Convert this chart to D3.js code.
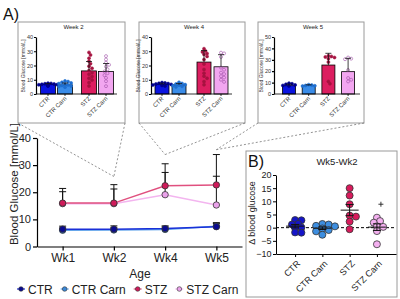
<!DOCTYPE html>
<html>
<head>
<meta charset="utf-8">
<script src="https://cdnjs.cloudflare.com/ajax/libs/d3/7.8.5/d3.min.js"></script>
<style>
body { margin: 0; background: #fff; }
svg { display: block; font-family: Arial, "Liberation Sans", sans-serif; }
</style>
</head>
<body>
<svg width="400" height="299"></svg>
<script>
// ---- data ----
var groups = ["CTR", "CTR Carn", "STZ", "STZ Carn"];
var weeks = ["Wk1", "Wk2", "Wk4", "Wk5"];

// main time course (mean, upper error)
var ctrMean = [6.4, 6.4, 6.6, 7.3];
var ctrErr = [1.1, 1.2, 1.0, 1.5];
var ctrCarnMean = [6.0, 6.1, 6.3, 7.5];
var ctrCarnErr = [0.8, 0.8, 0.9, 1.0];
var stzMean = [16.0, 16.0, 22.4, 22.7];
var stzErr = [5.4, 6.8, 8.1, 11.2];
var stzCarnMean = [15.8, 15.8, 19.1, 15.3];
var stzCarnErr = [4.4, 5.4, 8.2, 10.6];
// where the dashed zoom lines meet (Wk2, Wk4, Wk5)
var zoomWeeks = ["Wk2", "Wk4", "Wk5"];
var zoomLevel = [25.8, 33.9, 35.7];

// insets: bar means, errors, individual animals
var w2Mean = [6.6, 6.4, 16.2, 15.8];
var w2Err = [0.8, 1.3, 6.6, 5.6];
var w2Ctr = [7.6, 7.4, 7.2, 7.0, 6.8, 6.6, 6.5, 6.3, 6.1, 5.8, 5.6];
var w2CtrCarn = [9.2, 8.7, 8.2, 7.8, 7.3, 6.9, 6.4, 6.0, 5.6, 5.2, 4.8];
var w2Stz = [29.2, 27.4, 25.1, 23.0, 21.3, 19.5, 18.0, 16.5, 15.0, 13.8, 12.3, 11.0, 9.8, 8.0, 5.6];
var w2StzCarn = [26.6, 24.2, 22.0, 20.5, 19.2, 17.3, 15.8, 14.6, 13.2, 11.3, 9.0, 5.5];

var w4Mean = [6.7, 6.4, 22.4, 19.1];
var w4Err = [0.9, 1.0, 8.1, 8.5];
var w4Ctr = [8.0, 7.8, 7.5, 7.3, 7.0, 6.7, 6.4, 6.0, 5.6];
var w4CtrCarn = [8.2, 7.4, 7.0, 6.6, 6.2, 5.8, 5.4, 5.0];
var w4Stz = [31.8, 30.2, 29.5, 28.4, 27.8, 26.4, 24.2, 21.0, 17.2, 14.6, 12.5, 11.0, 8.7, 6.5];
var w4StzCarn = [29.0, 28.5, 26.0, 18.5, 17.0, 15.0, 14.0, 12.5, 11.5, 10.0, 8.5];

var w5Mean = [7.3, 7.5, 25.4, 19.6];
var w5Err = [1.3, 0.6, 10.3, 11.7];
var w5Ctr = [9.5, 9.0, 8.5, 8.0, 7.5, 7.0];
var w5CtrCarn = [8.2, 7.8, 7.5, 7.2, 7.0];
var w5Stz = [33.5, 33.0, 32.5, 32.0, 31.0, 28.0, 11.0, 9.0];
var w5StzCarn = [32.0, 31.0, 30.5, 21.0, 14.0, 12.5, 11.0];

// panel B: change Wk5 - Wk2
var deltaCtr = [2.9, 2.8, 1.4, 1.2, 0.1, -0.1, -1.8, -1.9];
var deltaCtrCarn = [1.4, 1.2, 0.7, 0.5, -0.3, -0.9, -1.4, -2.7];
var deltaStz = [15.0, 12.2, 8.9, 4.6, 4.2, 2.3, -0.6];
var deltaStzCarn = [3.8, 2.5, 1.9, 0.5, 0.3, -1.3, -6.3];
var stzCarnOutlier = [8.9];

var barColors = ["#0a14e0", "#3a8ce8", "#dc1e60", "#f2a6f0"];
var dotColors = ["#00008c", "#1f6fd0", "#a5123f", "#f2a6f0"];
var pointColors = ["#0a0a90", "#3a88d8", "#cf1a5a", "#eaa2ea"];
var lineColors = ["#1a30d8", "#5ea2ea", "#e0507f", "#f3b5ef"];

var svg = d3.select("svg");

// simple beeswarm: horizontal offsets so dots do not pile up
function swarm(vals, y, r, minDist) {
  var placed = [];
  return vals.map(function(v) {
    var py = y(v), off = 0;
    for (var k = 0; k < 14; k++) {
      var o = k === 0 ? 0 : (k % 2 ? 1 : -1) * Math.ceil(k / 2) * r * 0.9;
      var ok = placed.every(function(p) {
        return Math.hypot(p[0] - o, p[1] - py) >= r * minDist;
      });
      if (ok) { off = o; break; }
    }
    placed.push([off, py]);
    return off;
  });
}

// ---- insets ----
function drawInset(cfg) {
  var g = svg.append("g");
  g.append("rect")
    .attr("x", cfg.box[0]).attr("y", 22)
    .attr("width", cfg.box[1] - cfg.box[0]).attr("height", 101)
    .attr("fill", "#fff").attr("stroke", "#9a9a9a").attr("stroke-width", 1);
  g.append("text").attr("x", (cfg.box[0] + cfg.box[1]) / 2 + 2).attr("y", 29)
    .attr("text-anchor", "middle").attr("font-size", 6).attr("fill", "#222").text(cfg.title);

  var y = d3.scaleLinear().domain([0, cfg.yMax]).range([94, 37]);
  var x = d3.scalePoint().domain(groups).range([cfg.first, cfg.first + 3 * cfg.step]);
  function xp(i) { return x(groups[i]) + (i >= 2 ? cfg.gap : 0); }

  var yAxis = g.append("g").attr("transform", "translate(" + cfg.axisX + ",0)")
    .call(d3.axisLeft(y).ticks(cfg.yMax / 10).tickSize(2).tickSizeOuter(0).tickPadding(1));
  yAxis.selectAll("text").attr("font-size", 5.5).attr("fill", "#333");
  yAxis.selectAll("path,line").attr("stroke", "#000").attr("stroke-width", 0.8);

  g.append("text")
    .attr("transform", "translate(" + (cfg.axisX - 11) + ",66) rotate(-90)")
    .attr("text-anchor", "middle").attr("font-size", 5).attr("fill", "#333")
    .text("Blood Glucose [mmol/L]");

  var bw = cfg.bw;
  g.selectAll(".bar").data(cfg.mean).enter().append("rect")
    .attr("x", function(d, i) { return xp(i) - bw / 2; })
    .attr("y", function(d) { return y(d); })
    .attr("width", bw)
    .attr("height", function(d) { return 94 - y(d); })
    .attr("fill", function(d, i) { return barColors[i]; })
    .attr("stroke", "#000").attr("stroke-width", 0.8);

  cfg.dots.forEach(function(vals, i) {
    var offs = swarm(vals, y, 1.7, 1.6);
    g.selectAll(null).data(vals).enter().append("circle")
      .attr("cx", function(d, j) { return xp(i) + offs[j]; })
      .attr("cy", function(d) { return y(d); })
      .attr("r", 1.5)
      .attr("fill", i === 3 ? "none" : dotColors[i])
      .attr("stroke", i === 3 ? "#a050a8" : dotColors[i])
      .attr("stroke-width", 0.6);
  });

  cfg.mean.forEach(function(m, i) {
    var top = y(m + cfg.err[i]);
    g.append("line").attr("x1", xp(i)).attr("x2", xp(i)).attr("y1", y(m)).attr("y2", top)
      .attr("stroke", "#111").attr("stroke-width", 0.8);
    g.append("line").attr("x1", xp(i) - 3).attr("x2", xp(i) + 3).attr("y1", top).attr("y2", top)
      .attr("stroke", "#111").attr("stroke-width", 0.8);
  });

  g.append("line").attr("x1", cfg.axisX).attr("x2", cfg.axisEnd).attr("y1", 94).attr("y2", 94)
    .attr("stroke", "#000").attr("stroke-width", 0.8);
  groups.forEach(function(name, i) {
    g.append("line").attr("x1", xp(i)).attr("x2", xp(i)).attr("y1", 94).attr("y2", 96)
      .attr("stroke", "#000").attr("stroke-width", 0.8);
    g.append("text")
      .attr("transform", "translate(" + (xp(i) + 2) + ",99) rotate(-45)")
      .attr("text-anchor", "end").attr("font-size", 6).attr("fill", "#333").text(name);
  });
}

drawInset({ title: "Week 2", box: [18, 125], axisX: 36, axisEnd: 117, first: 48, step: 17, gap: 7, bw: 15, yMax: 40,
  mean: w2Mean, err: w2Err, dots: [w2Ctr, w2CtrCarn, w2Stz, w2StzCarn] });
drawInset({ title: "Week 4", box: [139, 245], axisX: 151, axisEnd: 232, first: 162, step: 17, gap: 8, bw: 14, yMax: 40,
  mean: w4Mean, err: w4Err, dots: [w4Ctr, w4CtrCarn, w4Stz, w4StzCarn] });
drawInset({ title: "Week 5", box: [258, 364], axisX: 274, axisEnd: 360, first: 289, step: 19.7, gap: 0, bw: 13, yMax: 50,
  mean: w5Mean, err: w5Err, dots: [w5Ctr, w5CtrCarn, w5Stz, w5StzCarn] });

// ---- panel A main ----
var x = d3.scalePoint().domain(weeks).range([37, 242]).padding(0.5);
var y = d3.scaleLinear().domain([0, 40]).range([246.5, 138]);

// dashed zoom lines
var boxCorners = [[18, 125], [139, 245], [258, 364]];
zoomWeeks.forEach(function(w, i) {
  boxCorners[i].forEach(function(cx) {
    svg.append("line")
      .attr("x1", cx).attr("y1", 123)
      .attr("x2", x(w)).attr("y2", y(zoomLevel[i]))
      .attr("stroke", "#777").attr("stroke-width", 0.8).attr("stroke-dasharray", "2,2");
  });
});

svg.append("text").attr("x", 3).attr("y", 20).attr("font-size", 16).attr("fill", "#111").text("A)");

var yAx = svg.append("g").attr("transform", "translate(37,0)")
  .call(d3.axisLeft(y).ticks(4).tickSize(4).tickSizeOuter(0).tickPadding(2));
var xAx = svg.append("g").attr("transform", "translate(0,246.5)")
  .call(d3.axisBottom(x).tickSize(4).tickSizeOuter(0).tickPadding(3));
yAx.selectAll("text").attr("font-size", 11).attr("fill", "#222");
xAx.selectAll("text").attr("font-size", 12).attr("fill", "#222");
svg.selectAll(".domain, .tick line").attr("stroke", "#000").attr("stroke-width", 1.2);

svg.append("text")
  .attr("transform", "translate(18,184) rotate(-90)")
  .attr("text-anchor", "middle").attr("font-size", 11.5).attr("fill", "#222")
  .text("Blood Glucose [mmol/L]");
svg.append("text").attr("x", 140).attr("y", 278).attr("text-anchor", "middle")
  .attr("font-size", 12).attr("fill", "#222").text("Age");

var series = [
  { name: groups[0], mean: ctrMean, err: ctrErr, c: 0 },
  { name: groups[1], mean: ctrCarnMean, err: ctrCarnErr, c: 1 },
  { name: groups[2], mean: stzMean, err: stzErr, c: 2 },
  { name: groups[3], mean: stzCarnMean, err: stzCarnErr, c: 3 }
];
var drawOrder = [1, 0, 3, 2];
var line = d3.line().x(function(d, i) { return x(weeks[i]); }).y(function(d) { return y(d); });

drawOrder.forEach(function(k) {
  var s = series[k];
  svg.append("path").datum(s.mean).attr("d", line)
    .attr("fill", "none").attr("stroke", lineColors[s.c]).attr("stroke-width", 1.5);
});
drawOrder.forEach(function(k) {
  var s = series[k];
  s.mean.forEach(function(m, i) {
    var cx = x(weeks[i]), top = y(m + s.err[i]);
    svg.append("line").attr("x1", cx).attr("x2", cx).attr("y1", y(m)).attr("y2", top)
      .attr("stroke", "#111").attr("stroke-width", 1);
    svg.append("line").attr("x1", cx - 3.5).attr("x2", cx + 3.5).attr("y1", top).attr("y2", top)
      .attr("stroke", "#111").attr("stroke-width", 1);
  });
});
drawOrder.forEach(function(k) {
  var s = series[k];
  svg.selectAll(null).data(s.mean).enter().append("circle")
    .attr("cx", function(d, i) { return x(weeks[i]); })
    .attr("cy", function(d) { return y(d); })
    .attr("r", 3.2)
    .attr("fill", pointColors[s.c]).attr("stroke", "#333").attr("stroke-width", 0.8);
});

// legend
var lx = 17;
groups.forEach(function(name, i) {
  var lg = svg.append("g");
  lg.append("line").attr("x1", lx).attr("x2", lx + 8).attr("y1", 289).attr("y2", 289)
    .attr("stroke", lineColors[i]).attr("stroke-width", 1.2);
  lg.append("circle").attr("cx", lx + 4).attr("cy", 289).attr("r", 2.3)
    .attr("fill", pointColors[i]).attr("stroke", "#333").attr("stroke-width", 0.6);
  var t = lg.append("text").attr("x", lx + 11).attr("y", 293.5)
    .attr("font-size", 12).attr("fill", "#222").text(name);
  lx += 11 + t.node().getComputedTextLength() + 8;
});

// ---- panel B ----
svg.append("rect").attr("x", 246).attr("y", 151).attr("width", 151).attr("height", 146)
  .attr("fill", "none").attr("stroke", "#9a9a9a").attr("stroke-width", 1);
svg.append("text").attr("x", 248).attr("y", 167).attr("font-size", 16).attr("fill", "#111").text("B)");
svg.append("text").attr("x", 337).attr("y", 165).attr("text-anchor", "middle")
  .attr("font-size", 9.5).attr("fill", "#222").text("Wk5-Wk2");

var bx = d3.scalePoint().domain(groups).range([276, 396]).padding(0.7);
var by = d3.scaleLinear().domain([-10, 20]).range([254, 175]);

var byAx = svg.append("g").attr("transform", "translate(276,0)")
  .call(d3.axisLeft(by).tickValues([-10, -5, 0, 5, 10, 15, 20]).tickSize(3).tickSizeOuter(0).tickPadding(1.5));
byAx.selectAll("text").attr("font-size", 9).attr("fill", "#222");
byAx.selectAll("path,line").attr("stroke", "#000").attr("stroke-width", 1);

var bxAx = svg.append("g").attr("transform", "translate(0,254)")
  .call(d3.axisBottom(bx).tickSize(3).tickSizeOuter(0));
bxAx.selectAll("path,line").attr("stroke", "#000").attr("stroke-width", 1);
bxAx.selectAll("text")
  .attr("font-size", 9).attr("fill", "#222")
  .attr("text-anchor", "end")
  .attr("x", 0).attr("y", 0).attr("dy", "0.35em")
  .attr("transform", "translate(3,8) rotate(-45)");

svg.append("text")
  .attr("transform", "translate(255,213) rotate(-90)")
  .attr("text-anchor", "middle").attr("font-size", 9).attr("fill", "#222")
  .text("\u0394 blood glucose");

svg.append("line").attr("x1", 276).attr("x2", 396).attr("y1", by(0)).attr("y2", by(0))
  .attr("stroke", "#000").attr("stroke-width", 1).attr("stroke-dasharray", "3,2");

var deltas = [deltaCtr, deltaCtrCarn, deltaStz, deltaStzCarn];
var bColors = ["#1515c8", "#3d8ee0", "#d81b5c", "#f4b0f0"];
deltas.forEach(function(vals, i) {
  var cx = bx(groups[i]);
  var offs = swarm(vals, by, 3.5, 1.25);
  svg.selectAll(null).data(vals).enter().append("circle")
    .attr("cx", function(d, j) { return cx + offs[j]; })
    .attr("cy", function(d) { return by(d); })
    .attr("r", 3.5)
    .attr("fill", bColors[i]).attr("stroke", "#333").attr("stroke-width", 0.8);
  var m = d3.mean(vals), se = d3.deviation(vals) / Math.sqrt(vals.length);
  svg.append("line").attr("x1", cx - 9).attr("x2", cx + 9).attr("y1", by(m)).attr("y2", by(m))
    .attr("stroke", "#111").attr("stroke-width", 1);
  svg.append("line").attr("x1", cx).attr("x2", cx).attr("y1", by(m - se)).attr("y2", by(m + se))
    .attr("stroke", "#111").attr("stroke-width", 1);
  [m - se, m + se].forEach(function(v) {
    svg.append("line").attr("x1", cx - 4).attr("x2", cx + 4).attr("y1", by(v)).attr("y2", by(v))
      .attr("stroke", "#111").attr("stroke-width", 1);
  });
});

// outlier marker
stzCarnOutlier.forEach(function(v) {
  var cx = bx(groups[3]) + 4, cy = by(v);
  svg.append("path").attr("d", "M" + (cx - 2.5) + "," + cy + "H" + (cx + 2.5) + "M" + cx + "," + (cy - 2.5) + "V" + (cy + 2.5))
    .attr("stroke", "#222").attr("stroke-width", 0.9);
});
</script>
</body>
</html>
